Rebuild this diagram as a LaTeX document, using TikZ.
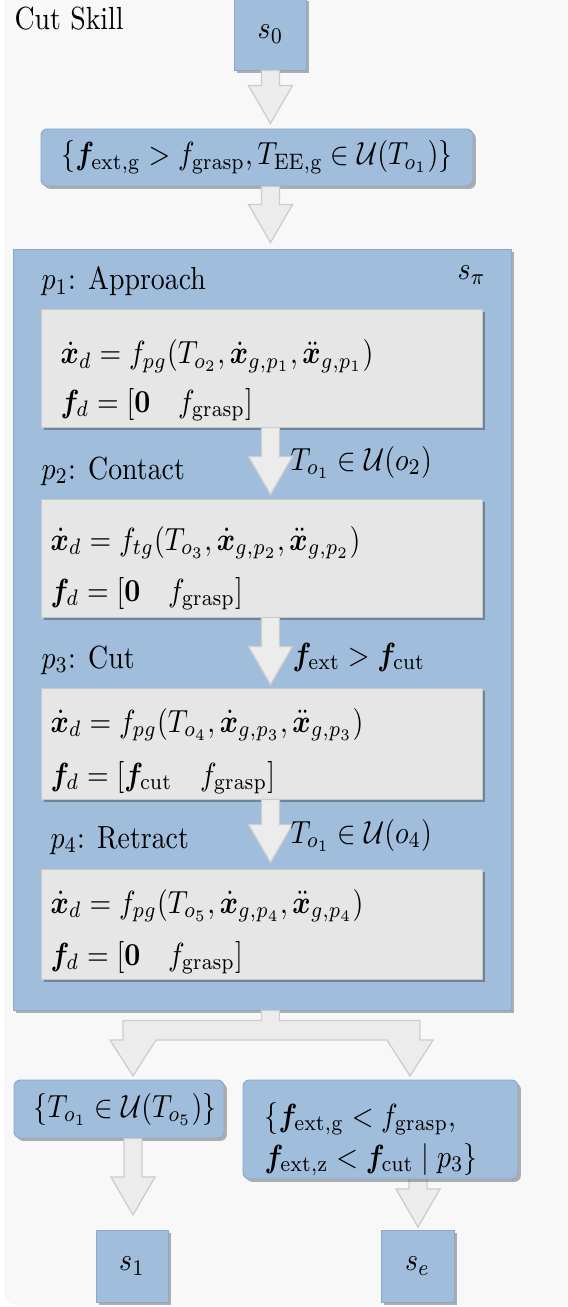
\documentclass[tikz,border=0pt]{standalone}
\usepackage{amsmath,amssymb,bm}
\usetikzlibrary{calc,shadows}
\definecolor{bluefill}{RGB}{160,189,220}
\definecolor{blueline}{RGB}{140,168,200}
\definecolor{greyfill}{RGB}{230,230,230}
\definecolor{greyline}{RGB}{200,200,200}
\definecolor{arrowfill}{RGB}{236,236,236}
\definecolor{arrowline}{RGB}{205,205,205}
\definecolor{bgcol}{RGB}{248,248,248}
\def\pxu{0.3125pt}
\newcommand\tx[1]{\scalebox{0.87}[1]{#1}}
\newcommand\blockarrow[2]{%
  \path[arrowblock] let \p1=(#1), \p2=(#2) in
    (\x1-2.8pt,\y1) -- (\x1-2.8pt,\y2+11.9pt) -- (\x1-6.9pt,\y2+11.9pt) -- (\x2,\y2)
    -- (\x1+6.9pt,\y2+11.9pt) -- (\x1+2.8pt,\y2+11.9pt) -- (\x1+2.8pt,\y1) -- cycle;}
\begin{document}
\begin{tikzpicture}[x=0.3125pt,y=-0.3125pt,
  shade/.style={drop shadow={shadow xshift=0.9pt,shadow yshift=-0.9pt,opacity=0.3,fill=black}},
  bluebox/.style={draw=blueline,line width=0.3pt,fill=bluefill,inner sep=0pt,shade},
  condbox/.style={bluebox,rounded corners=2pt},
  greybox/.style={draw=greyline,line width=0.3pt,fill=greyfill,inner sep=0pt,shade},
  lbl/.style={anchor=base west,inner sep=0pt},
  arrowblock/.style={fill=arrowfill,draw=arrowline,line width=0.4pt}]
\useasboundingbox (0,0) rectangle (567,1307);
\fill[white] (0,0) rectangle (567,1307);
\fill[bgcol,rounded corners=4pt] (4,-40) rectangle (640,1305);

\node[lbl] (title) at (14,30) {\tx{Cut Skill}};

% start state
\node[bluebox,minimum width=72*\pxu,minimum height=72*\pxu] (s0) at (270.5,34) {\tx{$s_0$}};

% entry condition
\node[condbox,minimum width=432*\pxu,minimum height=57*\pxu] (cond1) at (257,157.5)
  {\tx{$\{\boldsymbol{f}_{\mathrm{ext,g}} > f_{\mathrm{grasp}}, T_{\mathrm{EE,g}} \in \mathcal{U}(T_{o_1})\}$}};
\blockarrow{s0.south}{$(s0.south |- cond1.north)+(0,-5)$}

% skill policy
\node[bluebox,minimum width=498*\pxu,minimum height=761*\pxu] (spi) at (262,629.5) {};
\blockarrow{$(s0.south |- cond1.south)$}{$(s0.south |- spi.north)+(0,-6)$}
\node[lbl] (spilbl) at (457,280) {\tx{$s_\pi$}};

\node[lbl] (p1) at (41,290) {\tx{$p_1$: Approach}};
\node[greybox,minimum width=441*\pxu,minimum height=118*\pxu] (in1) at (261.5,368) {};
\node[lbl] (in1a) at (60,364) {\tx{$\dot{\boldsymbol{x}}_d = f_{pg}(T_{o_2}, \dot{\boldsymbol{x}}_{g,p_1}, \ddot{\boldsymbol{x}}_{g,p_1})$}};
\node[lbl] (in1b) at (60,412) {\tx{$\boldsymbol{f}_d = [\boldsymbol{0} \quad f_{\mathrm{grasp}}]$}};

\node[lbl] (p2) at (41,479) {\tx{$p_2$: Contact}};
\node[greybox,minimum width=441*\pxu,minimum height=118*\pxu] (in2) at (261.5,558) {};
\node[lbl] (in2a) at (50,550) {\tx{$\dot{\boldsymbol{x}}_d = f_{tg}(T_{o_3}, \dot{\boldsymbol{x}}_{g,p_2}, \ddot{\boldsymbol{x}}_{g,p_2})$}};
\node[lbl] (in2b) at (50,601) {\tx{$\boldsymbol{f}_d = [\boldsymbol{0} \quad f_{\mathrm{grasp}}]$}};
\blockarrow{$(s0.south |- in1.south)$}{$(s0.south |- in2.north)+(0,-4)$}
\node[lbl] (t12) at (290,470) {\tx{$T_{o_1} \in \mathcal{U}(o_2)$}};

\node[lbl] (p3) at (41,668) {\tx{$p_3$: Cut}};
\node[greybox,minimum width=441*\pxu,minimum height=111*\pxu] (in3) at (261.5,743.5) {};
\node[lbl] (in3a) at (50,732) {\tx{$\dot{\boldsymbol{x}}_d = f_{pg}(T_{o_4}, \dot{\boldsymbol{x}}_{g,p_3}, \ddot{\boldsymbol{x}}_{g,p_3})$}};
\node[lbl] (in3b) at (50,785) {\tx{$\boldsymbol{f}_d = [\boldsymbol{f}_{\mathrm{cut}} \quad f_{\mathrm{grasp}}]$}};
\blockarrow{$(s0.south |- in2.south)$}{$(s0.south |- in3.north)+(0,-3)$}
\node[lbl] (t23) at (292,665) {\tx{$\boldsymbol{f}_{\mathrm{ext}} > \boldsymbol{f}_{\mathrm{cut}}$}};

\node[lbl] (p4) at (50,848) {\tx{$p_4$: Retract}};
\node[greybox,minimum width=441*\pxu,minimum height=110*\pxu] (in4) at (261.5,924) {};
\node[lbl] (in4a) at (50,913) {\tx{$\dot{\boldsymbol{x}}_d = f_{pg}(T_{o_5}, \dot{\boldsymbol{x}}_{g,p_4}, \ddot{\boldsymbol{x}}_{g,p_4})$}};
\node[lbl] (in4b) at (50,965) {\tx{$\boldsymbol{f}_d = [\boldsymbol{0} \quad f_{\mathrm{grasp}}]$}};
\blockarrow{$(s0.south |- in3.south)$}{$(s0.south |- in4.north)+(0,-6)$}
\node[lbl] (t34) at (290,843) {\tx{$T_{o_1} \in \mathcal{U}(o_4)$}};

% split arrow
\coordinate (tipL) at (133,1076);
\coordinate (tipR) at (410,1076);
\path[arrowblock] let \p0=(s0.south |- spi.south), \p1=(tipL), \p2=(tipR) in
  (\x0-2.8pt,\y0) -- (\x0-2.8pt,\y0-3.1pt) -- (\x1-3.1pt,\y0-3.1pt) -- (\x1-3.1pt,\y1+11.25pt)
  -- (\x1-7.2pt,\y1+11.25pt) -- (\x1,\y1) -- (\x1+7.2pt,\y1+11.25pt)
  -- (\x2-7.2pt,\y2+11.25pt) -- (\x2,\y2) -- (\x2+7.2pt,\y2+11.25pt)
  -- (\x2+3.1pt,\y2+11.25pt) -- (\x2+3.1pt,\y0-3.1pt) -- (\x0+2.8pt,\y0-3.1pt) -- (\x0+2.8pt,\y0) -- cycle;

% exit conditions
\node[condbox,minimum width=210*\pxu,minimum height=58*\pxu] (condL) at (119,1109) {};
\node (condLt) at (125,1109) {\tx{$\{T_{o_1} \in \mathcal{U}(T_{o_5})\}$}};
\coordinate (tipR2) at (418,1227);
\blockarrow{$(tipR2 |- 0,1160)$}{tipR2}
\node[condbox,minimum width=275*\pxu,minimum height=99*\pxu] (condR) at (380.5,1129.5) {};
\node[lbl] (condRa) at (264,1126) {\tx{$\{\boldsymbol{f}_{\mathrm{ext,g}} < f_{\mathrm{grasp}},$}};
\node[lbl] (condRb) at (264,1167) {\tx{$\boldsymbol{f}_{\mathrm{ext,z}} < \boldsymbol{f}_{\mathrm{cut}} \mid p_3\}$}};

\coordinate (tipL2) at (133,1215);
\blockarrow{$(tipL2 |- condL.south)$}{tipL2}

% end states
\node[bluebox,minimum width=72*\pxu,minimum height=72*\pxu] (s1) at (132,1266) {\tx{$s_1$}};
\node[bluebox,minimum width=73*\pxu,minimum height=72*\pxu] (se) at (417.5,1266) {\tx{$s_e$}};
\end{tikzpicture}
\end{document}
